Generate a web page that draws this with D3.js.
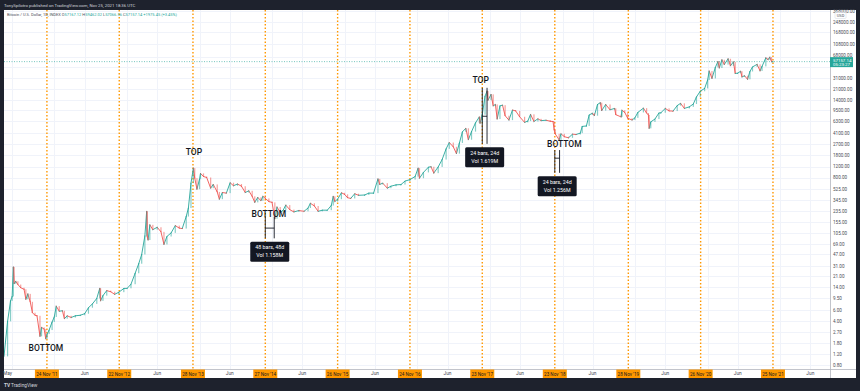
<!DOCTYPE html>
<html>
<head>
<meta charset="utf-8">
<script src="https://cdn.jsdelivr.net/npm/d3@7"></script>
<style>
  body { margin: 0; background: #1e222d; }
  svg { display: block; font-family: Roboto, "Liberation Sans", sans-serif; }
</style>
</head>
<body>
<div class="chart"></div>
<script>
// BTC / USD closes (roughly twice a month, more around swings)
var priceDates = [
  '2011-04-22','2011-05-10','2011-05-25','2011-06-02','2011-06-08','2011-06-12','2011-06-20','2011-07-01','2011-07-15',
  '2011-08-01','2011-08-10','2011-08-20','2011-09-01','2011-09-12','2011-09-25','2011-10-05','2011-10-20','2011-10-28',
  '2011-11-10','2011-11-18','2011-11-25','2011-12-05','2011-12-20','2011-12-31','2012-01-10','2012-01-25','2012-02-10',
  '2012-02-20','2012-03-05','2012-03-25','2012-04-15','2012-05-10','2012-06-01','2012-06-20','2012-07-10','2012-08-01',
  '2012-08-16','2012-08-20','2012-09-01','2012-09-20','2012-10-10','2012-10-30','2012-11-20','2012-12-15','2013-01-01',
  '2013-01-20','2013-02-10','2013-02-28','2013-03-15','2013-03-31','2013-04-09','2013-04-12','2013-04-16','2013-04-25',
  '2013-05-10','2013-06-01','2013-06-20','2013-07-05','2013-07-20','2013-08-10','2013-08-31','2013-09-20','2013-10-05',
  '2013-10-25','2013-11-05','2013-11-18','2013-11-30','2013-12-07','2013-12-18','2013-12-31','2014-01-05','2014-01-20',
  '2014-02-05','2014-02-25','2014-03-10','2014-03-30','2014-04-10','2014-04-25','2014-05-15','2014-06-03','2014-06-20',
  '2014-07-10','2014-07-30','2014-08-18','2014-09-05','2014-09-22','2014-10-05','2014-10-20','2014-11-05','2014-11-15',
  '2014-11-27','2014-12-15','2014-12-31','2015-01-14','2015-01-25','2015-02-10','2015-02-25','2015-03-10','2015-03-30',
  '2015-04-20','2015-05-15','2015-06-10','2015-06-30','2015-07-12','2015-08-01','2015-08-20','2015-09-10','2015-10-05',
  '2015-10-25','2015-11-04','2015-11-12','2015-11-26','2015-12-15','2015-12-31','2016-01-15','2016-01-31','2016-02-20',
  '2016-03-10','2016-04-10','2016-05-01','2016-05-25','2016-06-16','2016-06-25','2016-07-10','2016-08-02','2016-08-20',
  '2016-09-15','2016-10-10','2016-10-30','2016-11-24','2016-12-20','2017-01-04','2017-01-11','2017-01-31','2017-02-25',
  '2017-03-10','2017-03-24','2017-04-15','2017-05-05','2017-05-25','2017-06-10','2017-06-30','2017-07-16','2017-07-31',
  '2017-08-15','2017-09-01','2017-09-14','2017-09-30','2017-10-20','2017-11-08','2017-11-12','2017-11-23','2017-12-07',
  '2017-12-17','2017-12-22','2018-01-06','2018-01-17','2018-01-28','2018-02-06','2018-02-20','2018-03-05','2018-03-18',
  '2018-04-06','2018-04-24','2018-05-10','2018-05-30','2018-06-24','2018-07-10','2018-07-24','2018-08-10','2018-08-30',
  '2018-09-15','2018-10-10','2018-10-31','2018-11-14','2018-11-20','2018-11-25','2018-12-15','2018-12-24','2019-01-10',
  '2019-01-31','2019-02-20','2019-03-10','2019-03-31','2019-04-10','2019-05-01','2019-05-15','2019-05-31','2019-06-10',
  '2019-06-26','2019-07-10','2019-07-17','2019-08-06','2019-08-28','2019-09-20','2019-09-26','2019-10-23','2019-10-27',
  '2019-11-10','2019-11-25','2019-12-17','2019-12-31','2020-01-15','2020-02-12','2020-02-28','2020-03-08','2020-03-12',
  '2020-03-20','2020-04-10','2020-04-30','2020-05-10','2020-06-01','2020-06-20','2020-07-10','2020-07-31','2020-08-17',
  '2020-09-05','2020-09-30','2020-10-20','2020-11-05','2020-11-24','2020-12-16','2020-12-31','2021-01-08','2021-01-22',
  '2021-02-08','2021-02-21','2021-02-28','2021-03-13','2021-03-25','2021-04-13','2021-04-25','2021-05-10','2021-05-19',
  '2021-05-31','2021-06-15','2021-06-22','2021-07-05','2021-07-20','2021-08-01','2021-08-14','2021-09-06','2021-09-21',
  '2021-10-01','2021-10-20','2021-10-31','2021-11-09','2021-11-18','2021-11-25'
];
var priceCloses = [
  1.1, 4.0, 8.5, 10, 29.6, 16, 17.5, 15.5, 13.8,
  13, 9, 11, 8.2, 5.5, 5.0, 4.9, 2.3, 3.2,
  3.0, 2.1, 2.5, 2.9, 3.9, 4.7, 7.0, 5.8, 5.9,
  4.4, 4.9, 4.6, 4.9, 5.0, 5.3, 6.6, 7.6, 9.3,
  13.5, 8.5, 10.3, 12.4, 11.9, 10.8, 11.7, 13.4, 13.5,
  15.7, 23.5, 33.4, 47, 93, 230, 90, 80, 140,
  117, 128, 108, 68, 91, 104, 136, 124, 122,
  190, 260, 650, 1130, 780, 520, 750, 930, 830,
  800, 540, 620, 470, 360, 460, 450, 660, 590,
  630, 580, 460, 490, 400, 320, 385, 340, 400,
  370, 330, 320, 175, 270, 220, 240, 290, 245,
  225, 237, 230, 260, 310, 280, 230, 240, 240,
  285, 400, 330, 360, 455, 430, 380, 370, 440,
  415, 420, 450, 450, 760, 620, 650, 540, 580,
  610, 617, 700, 740, 830, 1130, 780, 965, 1170,
  1190, 940, 1180, 1550, 2300, 2900, 2480, 1930, 2860,
  4300, 4900, 3220, 4340, 6000, 7450, 5900, 8100, 16000,
  19300, 13800, 17100, 11200, 11800, 6900, 11200, 11500, 7800,
  6630, 9600, 9300, 7500, 6100, 6400, 8200, 6300, 6950,
  6500, 6600, 6350, 6300, 4600, 4000, 3200, 4000, 3600,
  3450, 3950, 3900, 4100, 5250, 5350, 8000, 8550, 7800,
  11800, 12600, 9400, 11800, 9700, 10200, 8100, 7450, 9550,
  8800, 7100, 6650, 7200, 8800, 10300, 8600, 8000, 4900,
  6200, 6900, 8600, 8700, 10200, 9300, 9250, 11300, 12300,
  10200, 10800, 12000, 15600, 19200, 21300, 29000, 40500, 30800,
  46200, 57500, 45200, 61200, 51300, 63500, 49000, 56700, 37000,
  37300, 40100, 32500, 34000, 29800, 39800, 47000, 51700, 40600,
  48000, 65900, 61300, 67500, 56900, 57157.14
];

// price axis ticks (as TradingView printed them; 47000 is hidden by the price tag)
var priceTicks = [0.8, 1.2, 1.8, 2.7, 4, 6, 9.5, 14, 21, 31, 47, 69, 105, 155, 235, 345, 525, 800,
  1200, 1800, 2700, 4100, 6300, 9500, 14000, 21000, 31000, 68000, 108000, 168000, 248000, 368000];

// cycle markers on the time axis
var cycleDates = ['2011-11-24','2012-11-22','2013-11-28','2014-11-27','2015-11-26','2016-11-24',
  '2017-11-23','2018-11-23','2019-11-28','2020-11-26','2021-11-25'];
var cycleLabels = ["24 Nov '11","22 Nov '12","28 Nov '13","27 Nov '14","26 Nov '15","24 Nov '16",
  "23 Nov '17","23 Nov '18","28 Nov '19","26 Nov '20","25 Nov '21"];

var monthTickDates = ['2011-05-01','2012-06-01','2013-06-01','2014-06-01','2015-06-01','2016-06-01',
  '2017-06-01','2018-06-01','2019-06-01','2020-06-01','2021-06-01','2022-06-01'];
var monthTickLabels = ['May','Jun','Jun','Jun','Jun','Jun','Jun','Jun','Jun','Jun','Jun','Jun'];

// text notes on the chart
var noteTexts = ['BOTTOM', 'TOP', 'BOTTOM', 'TOP', 'BOTTOM'];
var noteDates = ['2011-11-19', '2013-12-03', '2014-12-15', '2017-11-15', '2019-01-10'];
var notePrices = [1.52, 2050, 209, 29000, 2764];

// measure tool brackets
var measureStart = ['2014-11-27', '2017-11-23', '2018-11-23'];
var measureEnd = ['2015-01-11', '2017-12-17', '2018-12-17'];
var measureHigh = [189, 21800, 2200];
var measureLow = [85, 2764, 950];
var measureMid = [124, 7640, 1630];
var measureLine1 = ['48 bars, 48d', '24 bars, 24d', '24 bars, 24d'];
var measureLine2 = ['Vol 1.158M', 'Vol 1.619M', 'Vol 1.256M'];

var lastPrice = 57157.14;

var cfg = {
    w: 860,
    h: 391,
    left: 4,
    plotRight: 830,
    axisRight: 856,
    top: 10,
    plotBottom: 369,
    bottom: 378,
    up: '#26a69a',
    down: '#ef5350',
    orange: '#ff9800',
    dark: '#1e222d',
    grid: '#f0f3fa',
    text: '#131722',
    axisText: '#4a4d57'
};

var parse = d3.timeParse('%Y-%m-%d');

var svg = d3.select('.chart').append('svg')
    .attr('width', cfg.w)
    .attr('height', cfg.h);

svg.append('rect').attr('width', cfg.w).attr('height', cfg.h).attr('fill', cfg.dark);
svg.append('rect')
    .attr('x', cfg.left).attr('y', cfg.top)
    .attr('width', cfg.axisRight - cfg.left).attr('height', cfg.bottom - cfg.top)
    .attr('fill', '#fff');

var xScale = d3.scaleTime()
    .domain([parse('2011-04-22'), parse('2022-09-08')])
    .range([cfg.left, cfg.plotRight]);

var yScale = d3.scaleLog()
    .domain([0.8, 248000])
    .range([365, 21.8]);

svg.append('clipPath').attr('id', 'plotclip')
    .append('rect')
    .attr('x', cfg.left).attr('y', cfg.top)
    .attr('width', cfg.plotRight - cfg.left).attr('height', cfg.plotBottom - cfg.top);

var plot = svg.append('g').attr('clip-path', 'url(#plotclip)');

// grid
plot.selectAll('line.hgrid')
    .data(priceTicks.concat([47000]))
    .enter().append('line')
    .attr('class', 'hgrid')
    .attr('x1', cfg.left).attr('x2', cfg.plotRight)
    .attr('y1', function (d) { return Math.round(yScale(d)) + 0.5; })
    .attr('y2', function (d) { return Math.round(yScale(d)) + 0.5; })
    .attr('stroke', cfg.grid);

var gridDates = [];
for (var yr = 2011; yr <= 2022; yr++) {
    gridDates.push(new Date(yr, 0, 1));
    gridDates.push(new Date(yr, 5, 1));
}
plot.selectAll('line.vgrid')
    .data(gridDates)
    .enter().append('line')
    .attr('class', 'vgrid')
    .attr('y1', cfg.top).attr('y2', cfg.plotBottom)
    .attr('x1', function (d) { return Math.round(xScale(d)) + 0.5; })
    .attr('x2', function (d) { return Math.round(xScale(d)) + 0.5; })
    .attr('stroke', cfg.grid);

// cycle lines
plot.selectAll('line.cycle')
    .data(cycleDates)
    .enter().append('line')
    .attr('class', 'cycle')
    .attr('y1', cfg.top).attr('y2', cfg.plotBottom)
    .attr('x1', function (d) { return xScale(parse(d)); })
    .attr('x2', function (d) { return xScale(parse(d)); })
    .attr('stroke', cfg.orange)
    .attr('stroke-width', 1.4)
    .attr('stroke-dasharray', '1.5,2');

// last price line
plot.append('line')
    .attr('x1', cfg.left).attr('x2', cfg.plotRight)
    .attr('y1', yScale(lastPrice)).attr('y2', yScale(lastPrice))
    .attr('stroke', cfg.up)
    .attr('stroke-width', 0.8)
    .attr('stroke-dasharray', '1,1.5')
    .attr('opacity', 0.8);

// price series, each step coloured like a candle
var series = priceDates.map(function (d, i) {
    return { date: parse(d), close: priceCloses[i] };
});
var steps = series.slice(1).map(function (d, i) {
    return { from: series[i], to: d };
});

plot.selectAll('line.step')
    .data(steps)
    .enter().append('line')
    .attr('class', 'step')
    .attr('x1', function (d) { return xScale(d.from.date); })
    .attr('y1', function (d) { return yScale(d.from.close); })
    .attr('x2', function (d) { return xScale(d.to.date); })
    .attr('y2', function (d) { return yScale(d.to.close); })
    .attr('stroke', function (d) { return d.to.close >= d.from.close ? cfg.up : cfg.down; })
    .attr('stroke-width', 0.9)
    .attr('stroke-linecap', 'round');

plot.selectAll('rect.body')
    .data(steps)
    .enter().append('rect')
    .attr('class', 'body')
    .attr('x', function (d) { return xScale(d.to.date) - 0.6; })
    .attr('width', 1.2)
    .attr('y', function (d) { return Math.min(yScale(d.from.close), yScale(d.to.close)); })
    .attr('height', function (d) { return Math.max(0.8, Math.abs(yScale(d.from.close) - yScale(d.to.close))); })
    .attr('fill', function (d) { return d.to.close >= d.from.close ? cfg.up : cfg.down; })
    .attr('opacity', 0.55);

// notes
plot.selectAll('text.note')
    .data(noteTexts)
    .enter().append('text')
    .attr('class', 'note')
    .attr('x', function (d, i) { return xScale(parse(noteDates[i])); })
    .attr('y', function (d, i) { return yScale(notePrices[i]); })
    .attr('text-anchor', 'middle')
    .attr('dominant-baseline', 'central')
    .attr('font-size', 8.5)
    .attr('font-weight', 500)
    .attr('fill', cfg.text)
    .text(function (d) { return d; });

// measure brackets + boxes
var measures = plot.selectAll('g.measure')
    .data(measureStart)
    .enter().append('g')
    .attr('class', 'measure');

measures.each(function (d, i) {
    var g = d3.select(this);
    var x0 = xScale(parse(measureStart[i]));
    var x1 = xScale(parse(measureEnd[i]));
    var yTop = yScale(measureHigh[i]);
    var yBot = yScale(measureLow[i]);
    var yMid = yScale(measureMid[i]);
    [x0, x1].forEach(function (x) {
        g.append('line').attr('x1', x).attr('x2', x).attr('y1', yTop).attr('y2', yBot)
            .attr('stroke', cfg.text).attr('stroke-width', 0.9);
    });
    g.append('line').attr('x1', x0).attr('x2', x1).attr('y1', yMid).attr('y2', yMid)
        .attr('stroke', cfg.text).attr('stroke-width', 0.9);
    var cx = (x0 + x1) / 2;
    var bw = 39, bh = 20;
    g.append('rect')
        .attr('x', cx - bw / 2).attr('y', yBot + 3.5)
        .attr('width', bw).attr('height', bh)
        .attr('rx', 1.5)
        .attr('fill', '#131722');
    g.append('text')
        .attr('x', cx).attr('y', yBot + 3.5 + 7.5)
        .attr('text-anchor', 'middle')
        .attr('font-size', 5.3)
        .attr('fill', '#fff')
        .text(measureLine1[i]);
    g.append('text')
        .attr('x', cx).attr('y', yBot + 3.5 + 15.5)
        .attr('text-anchor', 'middle')
        .attr('font-size', 5.3)
        .attr('fill', '#fff')
        .text(measureLine2[i]);
});

// axes frame
svg.append('line')
    .attr('x1', cfg.plotRight + 0.5).attr('x2', cfg.plotRight + 0.5)
    .attr('y1', cfg.top).attr('y2', cfg.bottom)
    .attr('stroke', '#b2b5be').attr('stroke-width', 0.8);
svg.append('line')
    .attr('x1', cfg.left).attr('x2', cfg.axisRight)
    .attr('y1', cfg.plotBottom + 0.5).attr('y2', cfg.plotBottom + 0.5)
    .attr('stroke', '#b2b5be').attr('stroke-width', 0.8);

// price axis
var lpY = yScale(lastPrice);
var yAxis = d3.axisRight(yScale)
    .tickValues(priceTicks)
    .tickFormat(d3.format('.2f'))
    .tickSize(0)
    .tickPadding(3);

var yAxisG = svg.append('g')
    .attr('transform', 'translate(' + cfg.plotRight + ',0)')
    .call(yAxis);
yAxisG.select('.domain').remove();
yAxisG.selectAll('text')
    .attr('font-size', 4.6)
    .attr('fill', cfg.axisText)
    .attr('font-family', 'Roboto, sans-serif');
// a label sitting right on the last price tag is pushed just above it
yAxisG.selectAll('.tick')
    .filter(function (d) { var y = yScale(d); return y < lpY && y > lpY - 8; })
    .select('text')
    .attr('dy', function (d) { return (lpY - 5.5 - yScale(d)) + 'px'; })
    .attr('dominant-baseline', 'auto');

// currency tag
svg.append('rect')
    .attr('x', 835).attr('y', 12.5).attr('width', 11).attr('height', 6)
    .attr('rx', 1).attr('fill', '#fff').attr('stroke', '#d1d4dc').attr('stroke-width', 0.5);
svg.append('text')
    .attr('x', 840.5).attr('y', 17).attr('text-anchor', 'middle')
    .attr('font-size', 4).attr('fill', cfg.axisText).text('USD');

// last price tag
svg.append('rect')
    .attr('x', cfg.plotRight).attr('y', lpY - 4.5)
    .attr('width', 23).attr('height', 10)
    .attr('fill', cfg.up);
svg.append('text')
    .attr('x', cfg.plotRight + 3).attr('y', lpY + 0.2)
    .attr('font-size', 4.4).attr('fill', '#fff').text('57157.14');
svg.append('text')
    .attr('x', cfg.plotRight + 3).attr('y', lpY + 4.6)
    .attr('font-size', 4.4).attr('fill', '#fff').text('05:23:27');

// time axis labels
svg.selectAll('text.month')
    .data(monthTickDates)
    .enter().append('text')
    .attr('class', 'month')
    .attr('x', function (d) { return Math.max(xScale(parse(d)), 7.5); })
    .attr('y', 375)
    .attr('text-anchor', 'middle')
    .attr('font-size', 4.8)
    .attr('fill', cfg.axisText)
    .text(function (d, i) { return monthTickLabels[i]; });

var cycleTags = svg.selectAll('g.cycletag')
    .data(cycleDates)
    .enter().append('g')
    .attr('class', 'cycletag')
    .attr('transform', function (d) { return 'translate(' + xScale(parse(d)) + ',0)'; });
cycleTags.append('rect')
    .attr('x', -12).attr('y', cfg.plotBottom + 0.5)
    .attr('width', 24).attr('height', 8.5)
    .attr('fill', cfg.orange);
cycleTags.append('text')
    .attr('y', 375.5)
    .attr('text-anchor', 'middle')
    .attr('font-size', 4.6)
    .attr('fill', cfg.text)
    .text(function (d, i) { return cycleLabels[i]; });

// header, legend, footer
svg.append('text')
    .attr('x', 4).attr('y', 6.8)
    .attr('font-size', 4.3).attr('fill', '#d1d4dc')
    .text('TonySpilotro published on TradingView.com, Nov 25, 2021 18:36 UTC');

var legend = svg.append('text')
    .attr('x', 7).attr('y', 16.3)
    .attr('font-size', 4).attr('fill', cfg.axisText);
legend.append('tspan').text('Bitcoin / U.S. Dollar, 1D, INDEX  ');
[['O', '57167.12'], ['H', '59462.02'], ['L', '57066.56'], ['C', '57157.14']].forEach(function (p) {
    legend.append('tspan').attr('fill', cfg.axisText).text(p[0]);
    legend.append('tspan').attr('fill', cfg.up).text(p[1] + '  ');
});
legend.append('tspan').attr('fill', cfg.up).text('+1975.45 (+3.45%)');

svg.append('text')
    .attr('x', 4).attr('y', 386.5)
    .attr('font-size', 4.8).attr('font-weight', 700).attr('fill', '#d1d4dc')
    .text('TV');
svg.append('text')
    .attr('x', 11).attr('y', 386.5)
    .attr('font-size', 4.8).attr('fill', '#d1d4dc')
    .text('TradingView');
</script>
</body>
</html>
